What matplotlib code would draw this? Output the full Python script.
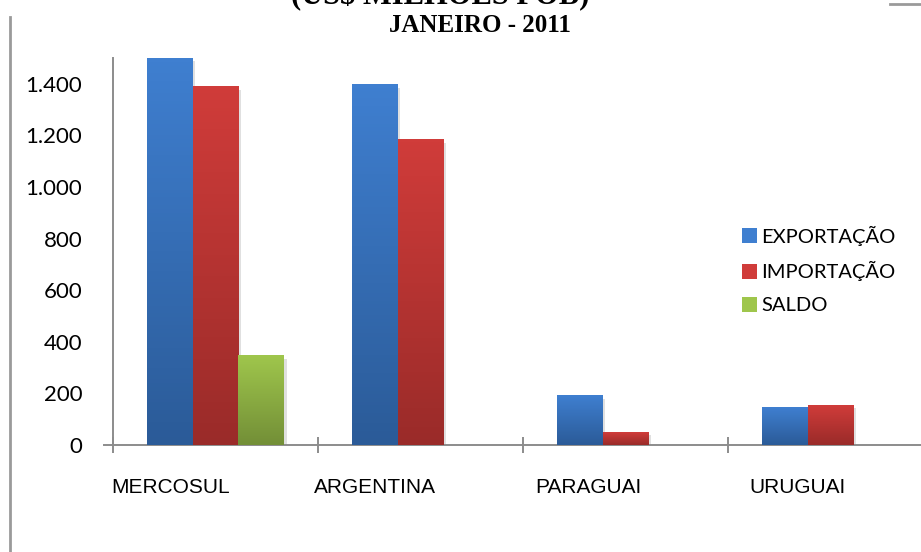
import numpy as np
import matplotlib
matplotlib.use('Agg')
import matplotlib.pyplot as plt
from matplotlib.lines import Line2D
from matplotlib.patches import Patch
import matplotlib.patheffects as pe

# Dados (US$ milhões FOB) - janeiro 2011
categorias = ['MERCOSUL', 'ARGENTINA', 'PARAGUAI', 'URUGUAI']
exportacao = [1500, 1396, 190, 147]
importacao = [1388, 1183, 50, 155]
saldo = [345, np.nan, np.nan, np.nan]
series = ['EXPORTAÇÃO', 'IMPORTAÇÃO', 'SALDO']

# cores (topo, base) do degradê
cores = {
    'EXPORTAÇÃO': ('#3F7FD0', '#2B5B98'),
    'IMPORTAÇÃO': ('#D03C3A', '#9A2B29'),
    'SALDO': ('#9FC64C', '#738F37'),
}

fig = plt.figure(figsize=(9.21, 5.52), dpi=100)
ax = fig.add_axes([113 / 921, 107 / 552, 820 / 921, 387 / 552])

x = np.arange(len(categorias))
largura = 0.224
valores = [exportacao, importacao, saldo]

for k, (nome, vals) in enumerate(zip(series, valores)):
    topo, base = cores[nome]
    barras = ax.bar(x + (k - 1) * largura, vals, largura, color=base, zorder=2,
                    path_effects=[pe.SimplePatchShadow(offset=(2, -2), shadow_rgbFace='#999999', alpha=0.3),
                                  pe.Normal()])
    cmap = matplotlib.colors.LinearSegmentedColormap.from_list(nome, [base, topo])
    grad = np.linspace(1, 0, 100).reshape(-1, 1)
    for b in barras:
        h = b.get_height()
        if np.isnan(h) or h == 0:
            continue
        ax.imshow(grad, extent=[b.get_x(), b.get_x() + b.get_width(), 0, h],
                  cmap=cmap, aspect='auto', zorder=3, vmin=0, vmax=1)

ax.set_xlim(-0.5, 3.5)
ax.set_ylim(0, 1500)

# eixos
cinza = '#8C8C8C'
for s in ['top', 'right']:
    ax.spines[s].set_visible(False)
ax.spines['left'].set_color(cinza)
ax.spines['bottom'].set_color(cinza)
ax.spines['left'].set_linewidth(1.4)
ax.spines['bottom'].set_linewidth(1.4)

ax.set_yticks(range(0, 1401, 200))
ax.set_yticklabels([f'{v:,}'.replace(',', '.') for v in range(0, 1401, 200)],
                   fontfamily='Lato', fontsize=16)
ax.tick_params(axis='y', length=0, pad=22)

# marcas entre categorias
ax.set_xticks(np.arange(-0.5, 3.6, 1), minor=True)
ax.tick_params(axis='x', which='minor', direction='inout', length=12, color=cinza, width=1.4)
desloc = np.array([-0.22, -0.22, -0.18, -0.16])
ax.set_xticks(x + desloc)
ax.set_xticklabels(categorias, fontfamily='Liberation Sans', fontsize=15)
ax.tick_params(axis='x', which='major', length=0, pad=24)

# pequena extensão do eixo x à esquerda
fig.add_artist(Line2D([104 / 921, 113 / 921], [107 / 552, 107 / 552], color=cinza, lw=1.4))

# títulos (parte superior cortada)
fig.text(440 / 921, 1 - 4 / 552, '(US$ MILHÕES FOB)', ha='center', va='baseline',
         fontfamily='Liberation Serif', fontweight='bold', fontsize=22)
fig.text(480 / 921, 1 - 32 / 552, 'JANEIRO - 2011', ha='center', va='baseline',
         fontfamily='Liberation Serif', fontweight='bold', fontsize=18)

# bordas da área do gráfico
fig.add_artist(Line2D([10 / 921, 10 / 921], [0, 1 - 17 / 552], color='#9A9A9A', lw=2))
fig.add_artist(Line2D([890 / 921, 1], [1 - 4 / 552, 1 - 4 / 552], color='#9A9A9A', lw=2))

# legenda
handles = [Patch(facecolor=cores[n][0], edgecolor='none') for n in series]
fig.legend(handles, series, loc='center left', bbox_to_anchor=(724 / 921, 1 - 270 / 552),
           frameon=False, prop={'family': 'Lato', 'size': 14.5},
           handlelength=0.75, handleheight=0.75, handletextpad=0.2, labelspacing=0.78)

plt.savefig('out.png', dpi=100)
